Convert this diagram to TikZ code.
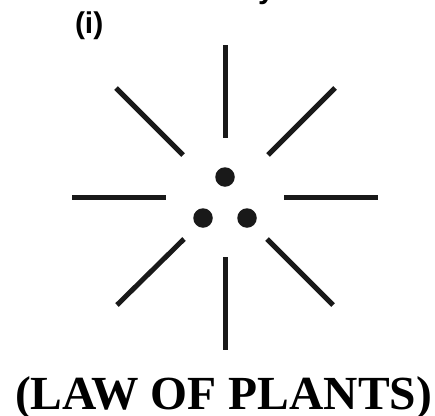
\documentclass[tikz,border=0pt]{standalone}
\usepackage{fontspec}
\setmainfont{Liberation Serif}
\newfontfamily\labelfont{Liberation Sans}
\begin{document}
\begin{tikzpicture}[x=1pt,y=-1pt,
  ray/.style={line width=5pt,black!90},
  dot/.style={circle,fill=black!90,minimum size=19.5pt,inner sep=0pt},
  txt/.style={inner sep=0pt,outer sep=0pt}]
\useasboundingbox (0,0) rectangle (435,415);
\clip (0,0) rectangle (435,415);
\fill[white] (0,0) rectangle (435,415);
% label
\node[txt,anchor=base west,font=\labelfont\bfseries\fontsize{30}{32}\selectfont] (lbl) at (75,33) {(i)};
% cut-off letter at the top
\node[txt,anchor=base west,font=\labelfont\bfseries\fontsize{30}{32}\selectfont] (cut) at (258,-1.5) {y};
% rays
\draw[ray] (225,45) -- (225,138);
\draw[ray] (225,257) -- (225,350);
\draw[ray] (72,197) -- (166,197);
\draw[ray] (284,197) -- (378,197);
\draw[ray] (116,88) -- (183,155);
\draw[ray] (268,155) -- (335,88);
\draw[ray] (184,239) -- (117,305);
\draw[ray] (267,239) -- (333,305);
% dots
\node[dot] (d1) at (225,177) {};
\node[dot] (d2) at (203,218) {};
\node[dot] (d3) at (247,218) {};
% title
\node[txt,anchor=base,font=\bfseries\fontsize{47.5}{50}\selectfont] (title) at (223.5,409) {(LAW OF PLANTS)};
\end{tikzpicture}
\end{document}
